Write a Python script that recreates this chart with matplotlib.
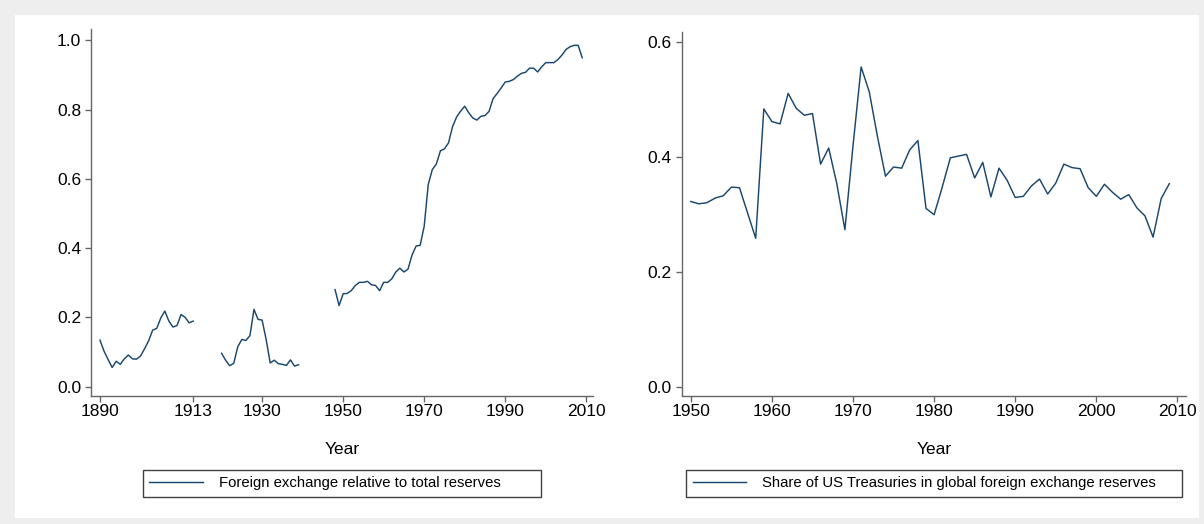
import numpy as np
import matplotlib
matplotlib.use("Agg")
import matplotlib.pyplot as plt
from matplotlib.patches import Rectangle

# ---------------- data ----------------
# Left panel: foreign exchange relative to total reserves (gaps 1914-1919, 1940-1947)
years_fx_a = list(range(1890, 1914))
fx_a = [0.134, 0.102, 0.078, 0.055, 0.073, 0.064, 0.080, 0.091, 0.080, 0.079,
        0.088, 0.109, 0.132, 0.163, 0.168, 0.198, 0.218, 0.189, 0.172, 0.176,
        0.208, 0.200, 0.184, 0.189]
years_fx_b = list(range(1920, 1940))
fx_b = [0.096, 0.076, 0.060, 0.067, 0.115, 0.136, 0.133, 0.147, 0.223, 0.194,
        0.192, 0.136, 0.068, 0.076, 0.066, 0.064, 0.061, 0.077, 0.059, 0.063]
years_fx_c = list(range(1948, 2010))
fx_c = [0.280, 0.234, 0.268, 0.269, 0.277, 0.292, 0.301, 0.301, 0.304, 0.294,
        0.292, 0.277, 0.301, 0.301, 0.311, 0.331, 0.342, 0.331, 0.339, 0.380,
        0.406, 0.408, 0.463, 0.584, 0.627, 0.643, 0.681, 0.687, 0.704, 0.751,
        0.779, 0.796, 0.810, 0.791, 0.776, 0.770, 0.781, 0.783, 0.795, 0.832,
        0.847, 0.863, 0.880, 0.882, 0.887, 0.897, 0.905, 0.908, 0.920, 0.920,
        0.909, 0.924, 0.936, 0.936, 0.936, 0.945, 0.958, 0.974, 0.982, 0.986,
        0.986, 0.950]

# Right panel: share of US Treasuries in global FX reserves
years_ust = list(range(1950, 2010))
ust = [0.322, 0.318, 0.320, 0.328, 0.332, 0.347, 0.346, 0.302, 0.258, 0.483,
       0.461, 0.457, 0.510, 0.484, 0.472, 0.475, 0.387, 0.415, 0.353, 0.273,
       0.419, 0.556, 0.513, 0.436, 0.366, 0.382, 0.380, 0.412, 0.428, 0.310,
       0.299, 0.347, 0.398, 0.401, 0.404, 0.363, 0.390, 0.330, 0.380, 0.359,
       0.329, 0.331, 0.349, 0.361, 0.335, 0.354, 0.387, 0.381, 0.379, 0.346,
       0.331, 0.352, 0.338, 0.326, 0.334, 0.311, 0.297, 0.260, 0.327, 0.353]

left_xticks = [1890, 1913, 1930, 1950, 1970, 1990, 2010]
left_yticks = [0.0, 0.2, 0.4, 0.6, 0.8, 1.0]
right_xticks = [1950, 1960, 1970, 1980, 1990, 2000, 2010]
right_yticks = [0.0, 0.2, 0.4, 0.6]

label_left = "Foreign exchange relative to total reserves"
label_right = "Share of US Treasuries in global foreign exchange reserves"
xlabel = "Year"

# ---------------- style ----------------
plt.rcParams['font.family'] = ['Liberation Sans', 'DejaVu Sans']
LINE = '#1a476f'
AXC = '#666666'
TICK_FS = 12.5
LEG_FS = 10.75

W, H = 1204, 524
fig = plt.figure(figsize=(W / 100, H / 100), dpi=100)
fig.patch.set_facecolor('#eeeeee')
bg = Rectangle((15 / W, 1 - 518 / H), (1199 - 15) / W, (518 - 15) / H,
               transform=fig.transFigure, facecolor='white',
               edgecolor='none', zorder=-10)
fig.patches.append(bg)

def fx(px):
    return px / W

def fy(py):
    return 1 - py / H

axL = fig.add_axes([fx(91), fy(395.5), fx(593.3) - fx(91), fy(29) - fy(395.5)])
axR = fig.add_axes([fx(681.5), fy(395.5), fx(1186) - fx(681.5), fy(32) - fy(395.5)])

# left series with gaps
yrs_left = years_fx_a + [1916] + years_fx_b + [1944] + years_fx_c
vals_left = fx_a + [np.nan] + fx_b + [np.nan] + fx_c
axL.plot(yrs_left, vals_left, color=LINE, lw=1.05, label=label_left)
axR.plot(years_ust, ust, color=LINE, lw=1.05, label=label_right)

axL.set_xlim(1887.78, 2011.73)
axL.set_ylim(-0.026, 1.0332)
axR.set_xlim(1948.85, 2011.06)
axR.set_ylim(-0.0154, 0.6168)

axL.set_xticks(left_xticks)
axL.set_xticklabels([str(t) for t in left_xticks])
axL.set_yticks(left_yticks)
axL.set_yticklabels([f"{t:.1f}" for t in left_yticks])
axR.set_xticks(right_xticks)
axR.set_xticklabels([str(t) for t in right_xticks])
axR.set_yticks(right_yticks)
axR.set_yticklabels([f"{t:.1f}" for t in right_yticks])

for ax in (axL, axR):
    ax.set_facecolor('white')
    for s in ('top', 'right'):
        ax.spines[s].set_visible(False)
    for s in ('left', 'bottom'):
        ax.spines[s].set_color(AXC)
        ax.spines[s].set_linewidth(1.0)
    ax.tick_params(axis='both', direction='out', length=4, width=1.0, color=AXC,
                   labelsize=TICK_FS, labelcolor='black')
    ax.tick_params(axis='x', pad=2)
    ax.tick_params(axis='y', pad=3)
    ax.set_xlabel(xlabel, fontsize=TICK_FS)

axL.xaxis.set_label_coords(0.5, (395.5 - 450) / (395.5 - 29))
axR.xaxis.set_label_coords(0.5, (395.5 - 450) / (395.5 - 32))
axL.xaxis.label.set_va('center')
axR.xaxis.label.set_va('center')

def add_legend(ax, x0, x1):
    leg = ax.legend(loc='lower left',
                    bbox_to_anchor=(fx(x0), fy(496.5), fx(x1) - fx(x0), fy(469) - fy(496.5)),
                    bbox_transform=fig.transFigure, mode='expand', borderaxespad=0,
                    fontsize=LEG_FS, frameon=True, fancybox=False,
                    handlelength=3.6, handletextpad=1.05, borderpad=0.42)
    fr = leg.get_frame()
    fr.set_edgecolor('#404040')
    fr.set_linewidth(1.0)
    fr.set_facecolor('white')
    fr.set_alpha(1.0)
    return leg

add_legend(axL, 143, 541)
add_legend(axR, 686.3, 1181.6)

fig.savefig('out.png', dpi=100, facecolor=fig.get_facecolor())
